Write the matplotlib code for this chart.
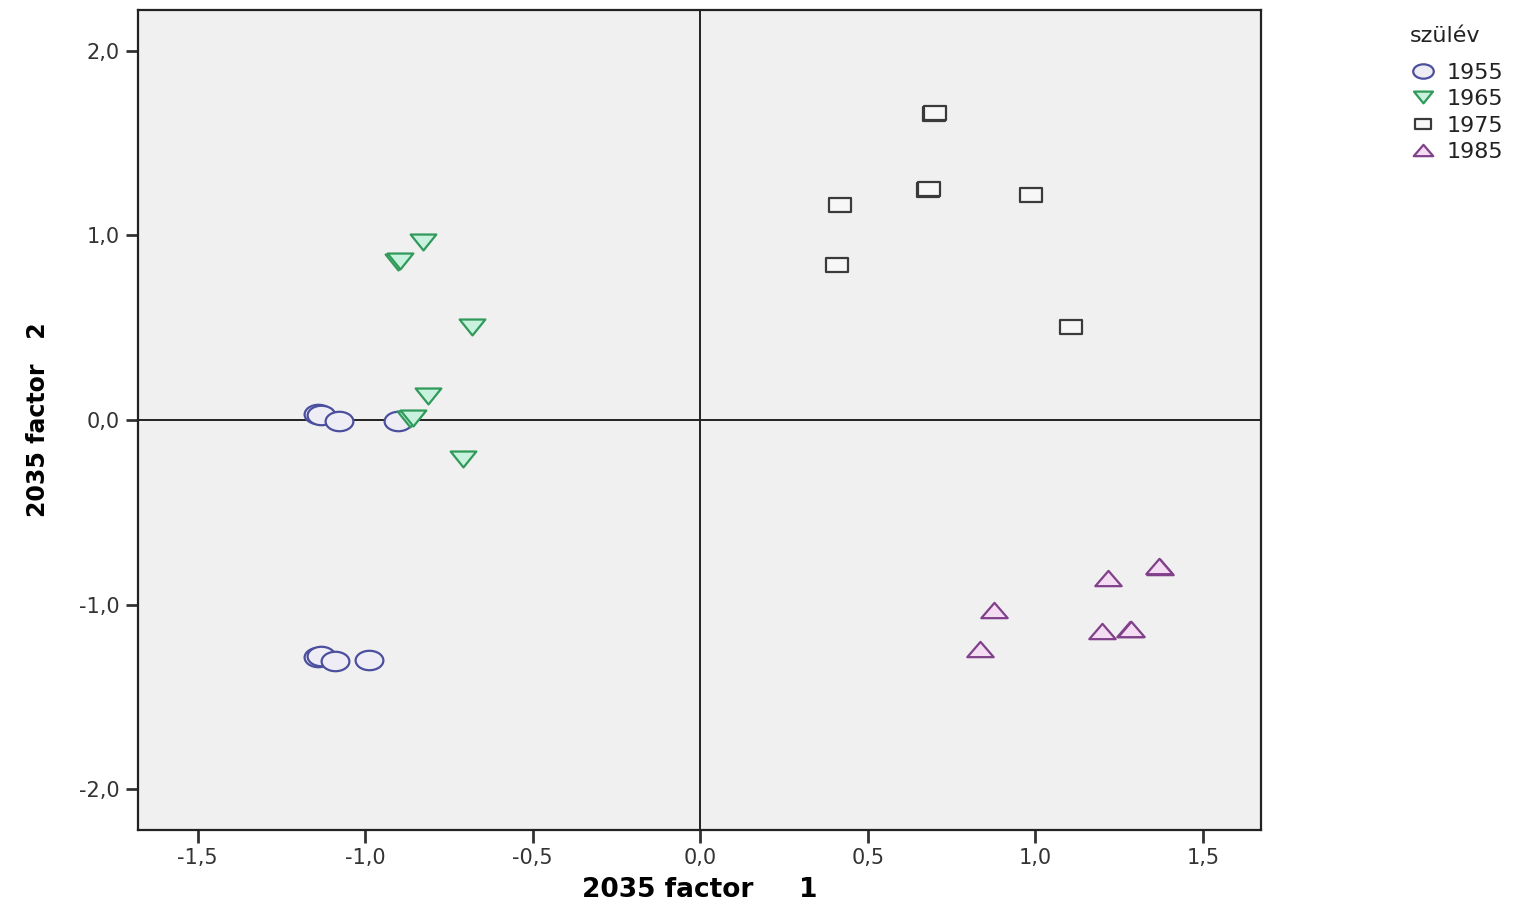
import matplotlib
matplotlib.use("Agg")
import matplotlib.pyplot as plt
import numpy as np
from matplotlib.path import Path
from matplotlib.ticker import FuncFormatter

# ---------- data ----------
YEARS = ["1955", "1965", "1975", "1985"]

x_1955 = [-1.140, -1.132, -1.078, -0.901, -1.140, -1.132, -1.090, -0.988]
y_1955 = [0.033, 0.028, -0.005, -0.005, -1.285, -1.280, -1.306, -1.301]

x_1965 = [-0.827, -0.901, -0.895, -0.681, -0.812, -0.866, -0.858, -0.707]
y_1965 = [0.965, 0.856, 0.860, 0.504, 0.130, 0.005, 0.008, -0.211]

x_1975 = [0.696, 0.700, 0.678, 0.682, 0.418, 0.988, 0.409, 1.107]
y_1975 = [1.659, 1.662, 1.247, 1.250, 1.165, 1.220, 0.840, 0.504]

x_1985 = [1.373, 1.370, 1.218, 0.875, 1.200, 1.281, 1.285, 0.836]
y_1985 = [-0.797, -0.793, -0.856, -1.030, -1.144, -1.133, -1.130, -1.241]

x_ticks = [-1.5, -1.0, -0.5, 0.0, 0.5, 1.0, 1.5]
y_ticks = [-2.0, -1.0, 0.0, 1.0, 2.0]

# ---------- wide (squashed) marker shapes, like the stretched SPSS output ----------
def squash(verts, ry):
    v = np.asarray(verts, dtype=float).copy()
    v[:, 1] *= ry
    return v

circ = Path.unit_circle()
M_ELLIPSE = Path(squash(circ.vertices, 0.70), circ.codes)
M_DOWN = Path(squash([(-1, 1), (1, 1), (0, -1), (-1, 1)], 0.62), closed=True)
M_SQUARE = Path(squash([(-1, -1), (1, -1), (1, 1), (-1, 1), (-1, -1)], 0.66), closed=True)
M_UP = Path(squash([(-1, -1), (1, -1), (0, 1), (-1, -1)], 0.58), closed=True)

# ---------- style ----------
PANEL_BG = "#f0f0f0"
STYLES = {
    "1955": dict(marker=M_ELLIPSE, edge="#4c4f9e", face="#eeedf5", size=20),
    "1965": dict(marker=M_DOWN, edge="#2f9a5a", face="#c9f2de", size=18.5),
    "1975": dict(marker=M_SQUARE, edge="#3a3a3a", face="#f7f7f7", size=16),
    "1985": dict(marker=M_UP, edge="#80408a", face="#f4dcf2", size=19),
}
series = {
    "1955": (x_1955, y_1955),
    "1965": (x_1965, y_1965),
    "1975": (x_1975, y_1975),
    "1985": (x_1985, y_1985),
}

fig = plt.figure(figsize=(15.17, 9.10), dpi=100)
ax = fig.add_axes([0.091, 0.088, 0.740, 0.901])
ax.set_facecolor(PANEL_BG)

ax.axhline(0, color="#222222", linewidth=1.4, zorder=1)
ax.axvline(0, color="#222222", linewidth=1.4, zorder=1)

for yr in YEARS:
    st = STYLES[yr]
    xs, ys = series[yr]
    ax.plot(xs, ys, linestyle="none", marker=st["marker"], markersize=st["size"],
            markerfacecolor=st["face"], markeredgecolor=st["edge"],
            markeredgewidth=1.6, label=yr, zorder=3)

ax.set_xlim(-1.678, 1.672)
ax.set_ylim(-2.22, 2.22)
ax.set_xticks(x_ticks)
ax.set_yticks(y_ticks)
comma = FuncFormatter(lambda v, p: f"{v:.1f}".replace(".", ",").replace("-0,0", "0,0"))
ax.xaxis.set_major_formatter(comma)
ax.yaxis.set_major_formatter(comma)
ax.tick_params(axis="both", direction="out", length=9, width=2, color="#333333",
               labelsize=15, labelcolor="#333333", pad=4)

for sp in ax.spines.values():
    sp.set_color("#222222")
    sp.set_linewidth(1.6)

ax.set_xlabel("2035 factor     1", fontsize=19, fontweight="bold")
ax.xaxis.set_label_coords(0.5, -0.058)
ax.set_ylabel("2035 factor   2", fontsize=17, fontweight="bold")
ax.yaxis.set_label_coords(-0.078, 0.5)

# ---------- legend (outside, top right) ----------
fig.text(1410 / 1517, 1 - 36 / 910, "szülév", fontsize=16, color="#222222",
         ha="left", va="center")
leg = fig.legend(loc="upper left", bbox_to_anchor=(0.9294, 0.931), frameon=False,
                 fontsize=16, handletextpad=0.45, labelspacing=0.29, markerscale=0.74,
                 handlelength=1.2, borderpad=0, borderaxespad=0)
for t in leg.get_texts():
    t.set_color("#222222")

fig.savefig("out.png", dpi=100, facecolor="white")
